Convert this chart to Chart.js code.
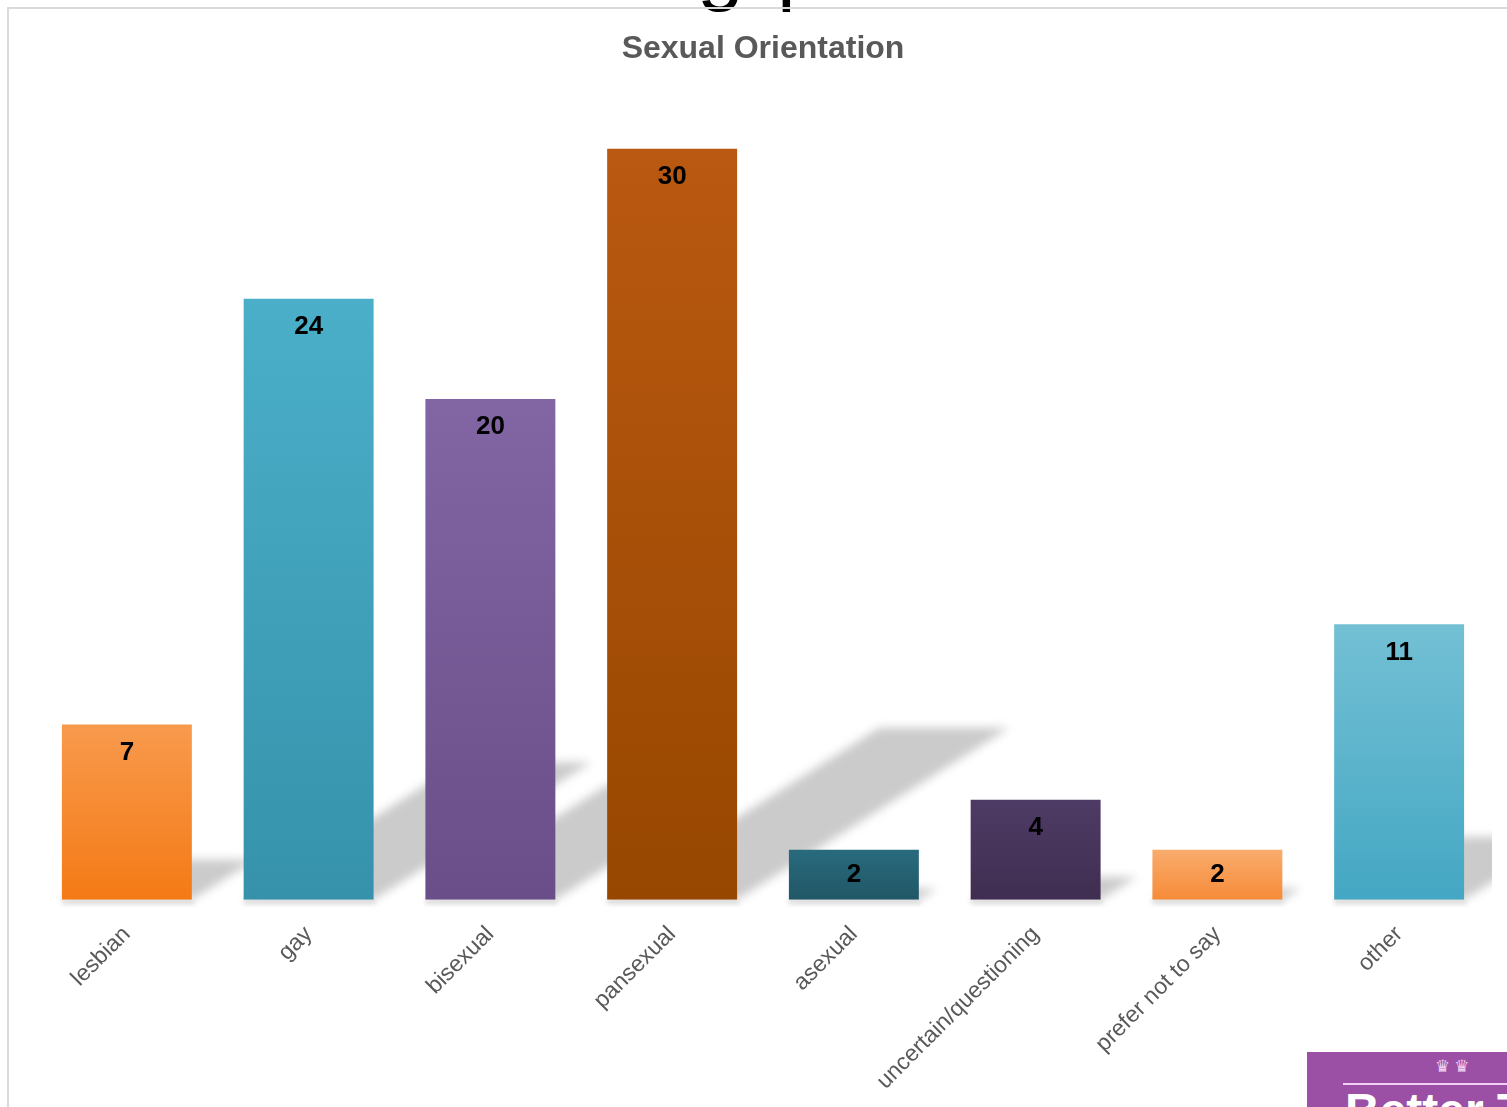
<!DOCTYPE html>
<html>
<head>
<meta charset="utf-8">
<title>Sexual Orientation</title>
<script src="https://cdn.jsdelivr.net/npm/chart.js@4.4.1/dist/chart.umd.min.js"></script>
<style>
    body { margin: 0; background: #ffffff; overflow: hidden; font-family: "Liberation Sans", Arial, sans-serif; }
    #stage { position: relative; width: 1507px; height: 1107px; overflow: hidden; }
    #chart { position: absolute; left: 0; top: 0; }
    #frame {
        position: absolute; left: 7px; top: 7px; width: 1600px; height: 1200px;
        border-top: 2px solid #dadada; border-left: 2px solid #dadada;
        pointer-events: none;
    }
    #heading {
        position: absolute; left: 697px; top: -76px; font-size: 84px; line-height: 1;
        color: #000; white-space: pre; word-spacing: 10px;
    }
    #logo {
        position: absolute; left: 1307px; top: 1052px; width: 200px; height: 55px;
        background: #9b50a6; overflow: hidden;
    }
    #logo .rule { position: absolute; left: 36px; top: 31px; width: 200px; height: 2px; background: #f3cff3; }
    #logo .crowns { position: absolute; left: 128px; top: 6px; font-size: 17px; line-height: 1; color: #f1d2f1; letter-spacing: 4px; font-family: "DejaVu Sans", sans-serif; }
    #logo .name { position: absolute; left: 38px; top: 35px; font-size: 48px; line-height: 1; font-weight: bold; color: #ffffff; white-space: nowrap; }
</style>
</head>
<body>
<div id="stage">
    <div id="heading">g p</div>
    <!-- canvas runs a little past the bottom edge so the plot sits lower -->
    <canvas id="chart" width="1507" height="1116"></canvas>
    <div id="frame"></div>
    <div id="logo">
        <div class="crowns">♛♛</div>
        <div class="rule"></div>
        <div class="name">Better T</div>
    </div>
</div>
<script>
const categories = ["lesbian", "gay", "bisexual", "pansexual", "asexual", "uncertain/questioning", "prefer not to say", "other"];
const counts = [7, 24, 20, 30, 2, 4, 2, 11];

// top / bottom colour of each bar's gradient
const barColours = [
    ["#f89a4d", "#f47a15"],
    ["#4bafc9", "#3692ab"],
    ["#8266a4", "#694e89"],
    ["#ba5911", "#974700"],
    ["#286b7d", "#215766"],
    ["#4e3b65", "#3f2e51"],
    ["#f9ac6d", "#f68b38"],
    ["#73c0d4", "#44a7c3"]
];

function barGradient(context) {
    const chart = context.chart;
    const i = context.dataIndex;
    const pair = barColours[i % barColours.length];
    if (!chart.chartArea) return pair[1];
    const y = chart.scales.y;
    const g = chart.ctx.createLinearGradient(0, y.getPixelForValue(counts[i]), 0, y.getPixelForValue(0));
    g.addColorStop(0, pair[0]);
    g.addColorStop(1, pair[1]);
    return g;
}

// soft slanted shadow thrown up and to the right behind every bar
const castShadows = {
    id: "castShadows",
    beforeDatasetsDraw(chart) {
        const ctx = chart.ctx;
        const area = chart.chartArea;
        const bars = chart.getDatasetMeta(0).data;
        ctx.save();
        ctx.beginPath();
        ctx.rect(area.left, area.top - 40, area.right - area.left + 2, area.bottom - area.top + 48);
        ctx.clip();
        ctx.filter = "blur(5px)";
        ctx.fillStyle = "#cbcbcb";
        bars.forEach(bar => {
            const h = bar.base - bar.y;
            const left = bar.x - bar.width / 2;
            const right = bar.x + bar.width / 2;
            const dx = h * 0.362;
            const dy = h * 0.229;
            ctx.beginPath();
            ctx.moveTo(left, bar.base);
            ctx.lineTo(right, bar.base);
            ctx.lineTo(right + dx, bar.base - dy);
            ctx.lineTo(left + dx, bar.base - dy);
            ctx.closePath();
            ctx.fill();
        });
        ctx.filter = "blur(2px)";
        ctx.fillStyle = "#dedede";
        bars.forEach(bar => {
            ctx.fillRect(bar.x - bar.width / 2, bar.base - 1, bar.width + 2, 5);
        });
        ctx.restore();
    }
};

// value written inside the top of each bar
const barValues = {
    id: "barValues",
    afterDatasetsDraw(chart) {
        const ctx = chart.ctx;
        const bars = chart.getDatasetMeta(0).data;
        ctx.save();
        ctx.font = "bold 26px 'Liberation Sans', Arial, sans-serif";
        ctx.fillStyle = "#000000";
        ctx.textAlign = "center";
        ctx.textBaseline = "middle";
        bars.forEach((bar, i) => {
            const h = bar.base - bar.y;
            const y = h < 60 ? bar.y + h / 2 : bar.y + 28;
            ctx.fillText(String(counts[i]), bar.x, y);
        });
        ctx.restore();
    }
};

new Chart(document.getElementById("chart"), {
    type: "bar",
    data: {
        labels: categories,
        datasets: [{
            data: counts,
            backgroundColor: barGradient,
            borderWidth: 0,
            barPercentage: 0.715,
            categoryPercentage: 1
        }]
    },
    options: {
        responsive: false,
        animation: false,
        layout: { padding: { left: 36, right: 17, top: 0, bottom: 0 } },
        plugins: {
            legend: { display: false },
            tooltip: { enabled: false },
            title: {
                display: true,
                text: "Sexual Orientation",
                color: "#595959",
                font: { family: "'Liberation Sans', Arial, sans-serif", size: 32, weight: "bold" },
                padding: { top: 30, bottom: 80 }
            }
        },
        scales: {
            x: {
                grid: { display: false, drawTicks: false },
                border: { display: false },
                ticks: {
                    color: "#595959",
                    font: { family: "'Liberation Sans', Arial, sans-serif", size: 23 },
                    minRotation: 45,
                    maxRotation: 45,
                    padding: 21,
                    autoSkip: false
                }
            },
            y: {
                display: false,
                min: 0,
                max: 30
            }
        }
    },
    plugins: [castShadows, barValues]
});
</script>
</body>
</html>
